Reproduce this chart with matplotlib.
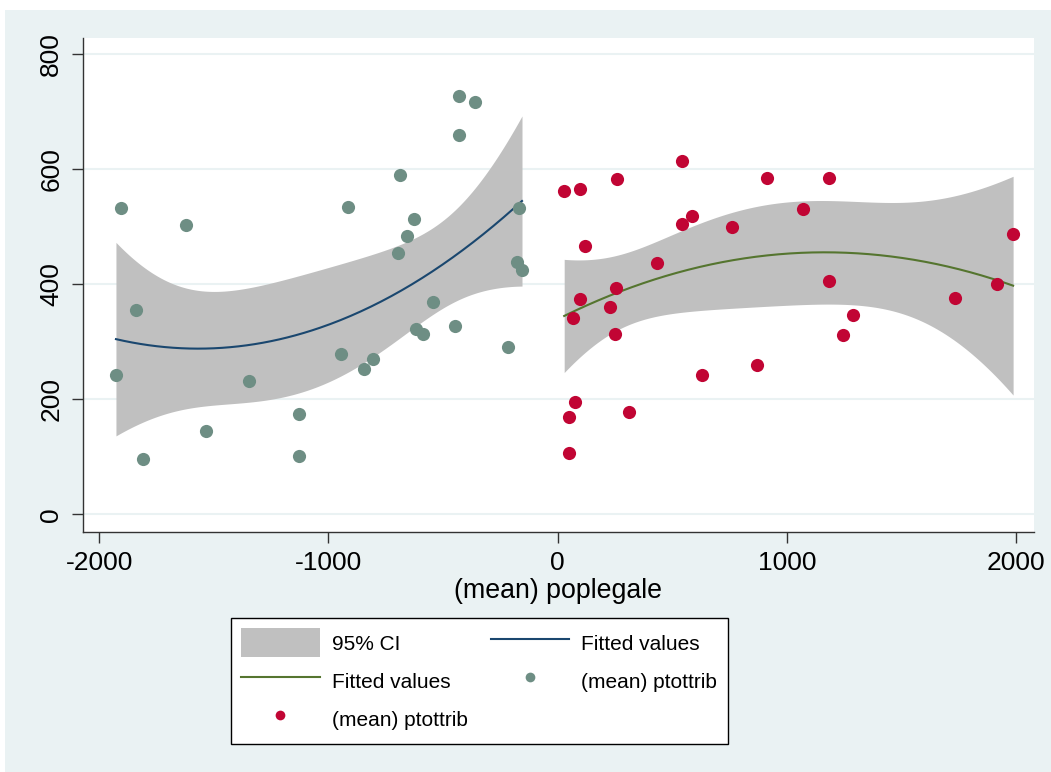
import numpy as np
import matplotlib
matplotlib.use("Agg")
import matplotlib.pyplot as plt
from matplotlib.patches import Rectangle, Patch
from matplotlib.lines import Line2D

plt.rcParams['font.family'] = ['Liberation Sans', 'DejaVu Sans']
plt.rcParams['axes.unicode_minus'] = False

# (mean) poplegale vs (mean) ptottrib, negative side
left_x = [-1906, -1620, -1841, -1927, -1347, -1808, -1534, -1129, -1129, -946,
          -847, -807, -915, -690, -626, -659, -699, -545, -620, -587,
          -447, -431, -363, -430, -168, -180, -156, -219]
left_y = [532, 503, 356, 243, 231, 97, 145, 175, 101, 278,
          252, 270, 534, 590, 514, 484, 455, 370, 322, 313,
          328, 727, 717, 659, 532, 438, 425, 291]

# positive side
right_x = [28, 95, 258, 544, 911, 1181, 120, 585, 544, 758,
           1068, 1986, 431, 1184, 1914, 1732, 255, 95, 65, 226,
           251, 1286, 1244, 870, 627, 73, 50, 309, 50]
right_y = [562, 566, 583, 615, 584, 584, 467, 519, 504, 499,
           531, 487, 437, 405, 400, 376, 394, 374, 341, 360,
           314, 346, 311, 260, 243, 196, 170, 178, 106]

x_ticks = [-2000, -1000, 0, 1000, 2000]
y_ticks = [0, 200, 400, 600, 800]

bg = '#EAF2F3'
ci_col = '#C0C0C0'
teal = '#6E8E84'
cranberry = '#C10534'
navy = '#1A476F'
green = '#55752F'


def qfitci(x, y, t):
    # quadratic fit + 95% CI of the mean prediction (like stata qfitci)
    x = np.asarray(x, float)
    y = np.asarray(y, float)
    X = np.column_stack([np.ones_like(x), x, x ** 2])
    beta, res, _, _ = np.linalg.lstsq(X, y, rcond=None)
    n = len(x)
    resid = y - X @ beta
    s2 = resid @ resid / (n - 3)
    cov = s2 * np.linalg.inv(X.T @ X)
    xs = np.linspace(x.min(), x.max(), 200)
    Xs = np.column_stack([np.ones_like(xs), xs, xs ** 2])
    fit = Xs @ beta
    se = np.sqrt(np.einsum('ij,jk,ik->i', Xs, cov, Xs))
    return xs, fit, fit - t * se, fit + t * se


# t(0.975) for df = n-3
xl, fl, lo_l, hi_l = qfitci(left_x, left_y, 2.0595)
xr, fr, lo_r, hi_r = qfitci(right_x, right_y, 2.0555)

fig = plt.figure(figsize=(10.51, 7.72), dpi=100, facecolor='white')
fig.patches.append(Rectangle((5 / 1051, 0), 1, 1 - 10 / 772, transform=fig.transFigure,
                             facecolor=bg, edgecolor='none', zorder=-10))
ax = fig.add_axes([0.0787, 0.3113, 0.9051, 0.6395])
ax.set_facecolor('white')

ax.fill_between(xl, lo_l, hi_l, color=ci_col, linewidth=0, zorder=2)
ax.fill_between(xr, lo_r, hi_r, color=ci_col, linewidth=0, zorder=2)
ax.plot(xl, fl, color=navy, lw=1.5, zorder=3)
ax.plot(xr, fr, color=green, lw=1.5, zorder=3)
ax.scatter(left_x, left_y, s=90, color=teal, linewidths=0, zorder=4)
ax.scatter(right_x, right_y, s=90, color=cranberry, linewidths=0, zorder=4)

ax.set_xlim(-2072, 2077)
ax.set_ylim(-30, 828)
ax.set_xticks(x_ticks)
ax.set_yticks(y_ticks)
ax.grid(axis='y', color=bg, lw=1.5, zorder=1)
ax.set_axisbelow(True)

for s in ['top', 'right']:
    ax.spines[s].set_visible(False)
for s in ['left', 'bottom']:
    ax.spines[s].set_color('#333333')
    ax.spines[s].set_linewidth(1.0)

ax.tick_params(axis='both', direction='out', length=8, width=1, color='#333333', labelsize=19)
ax.tick_params(axis='x', pad=6)
ax.tick_params(axis='y', pad=6)
for lab in ax.get_yticklabels():
    lab.set_rotation(90)
    lab.set_va('center')

ax.set_xlabel('(mean) poplegale', fontsize=19.3, labelpad=2)

handles = [
    Patch(facecolor=ci_col, edgecolor='none'),
    Line2D([], [], color=green, lw=1.5),
    Line2D([], [], color=cranberry, marker='o', ls='none', markersize=7, markeredgewidth=0),
    Line2D([], [], color=navy, lw=1.5),
    Line2D([], [], color=teal, marker='o', ls='none', markersize=7, markeredgewidth=0),
]
labels = ['95% CI', 'Fitted values', '(mean) ptottrib', 'Fitted values', '(mean) ptottrib']
leg = fig.legend(handles, labels, ncol=2, loc='upper left',
                 bbox_to_anchor=(231 / 1051, 1 - 618 / 772), fontsize=15,
                 frameon=True, fancybox=False, edgecolor='black', facecolor='white',
                 framealpha=1, borderpad=0.5, borderaxespad=0, handlelength=3.75,
                 handleheight=1.75, handletextpad=0.6, columnspacing=1.1, labelspacing=0.45)
leg.get_frame().set_linewidth(1.0)

fig.savefig('out.png', dpi=100, facecolor=fig.get_facecolor())
